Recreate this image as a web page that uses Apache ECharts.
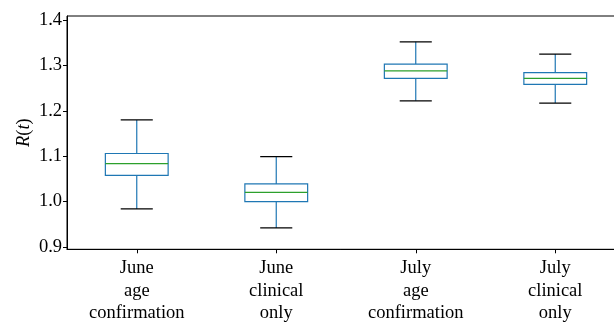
<!DOCTYPE html>
<html>
<head>
<meta charset="utf-8">
<script src="https://cdn.jsdelivr.net/npm/echarts@6/dist/echarts.min.js"></script>
<style>html,body{margin:0;padding:0;background:#fff}#c{width:614px;height:322px}</style>
</head>
<body>
<div id="c"></div>
<script>
const categories = ["June\nage\nconfirmation", "June\nclinical\nonly", "July\nage\nconfirmation", "July\nclinical\nonly"];
const whiskerLow = [0.984, 0.942, 1.222, 1.217];
const q1 = [1.058, 1.000, 1.2715, 1.258];
const median = [1.0835, 1.0205, 1.288, 1.2715];
const q3 = [1.106, 1.039, 1.303, 1.284];
const whiskerHigh = [1.180, 1.099, 1.352, 1.325];
const yTicks = [0.9, 1.0, 1.1, 1.2, 1.3, 1.4];

const data = categories.map((c, i) => [i, whiskerLow[i], q1[i], median[i], q3[i], whiskerHigh[i]]);
const FONT = "Liberation Serif";
const BLUE = "#1f77b4", GREEN = "#2ca02c";
const FS = 18.5;

const chart = echarts.init(document.getElementById('c'));
chart.setOption({
  animation: false,
  backgroundColor: '#fff',
  grid: { left: 67, top: 16, width: 558, height: 233.3, containLabel: false, outerBoundsMode: 'none', show: true, borderColor: '#000', borderWidth: 1, backgroundColor: 'transparent' },
  xAxis: {
    type: 'category', data: categories, boundaryGap: true,
    axisLine: { show: true, lineStyle: { color: '#000', width: 1 } },
    axisTick: { show: true, alignWithLabel: true, length: 4, lineStyle: { color: '#000', width: 1 } },
    axisLabel: { fontFamily: FONT, fontSize: FS, color: '#000', lineHeight: 22.5, margin: 8, interval: 0 },
    splitLine: { show: false }
  },
  yAxis: {
    type: 'value', min: 0.895, max: 1.4088,
    name: '{i|R}({i|t})', nameLocation: 'middle', nameGap: 33, nameRotate: 90, nameMoveOverlap: false,
    nameTextStyle: { fontFamily: FONT, fontSize: FS, color: '#000', rich: { i: { fontFamily: FONT, fontSize: FS, fontStyle: 'italic', color: '#000' } } },
    axisLine: { show: true, lineStyle: { color: '#000', width: 1 } },
    axisTick: { show: true, length: 4, customValues: yTicks, lineStyle: { color: '#000', width: 1 } },
    axisLabel: { customValues: yTicks, fontFamily: FONT, fontSize: FS, color: '#000', margin: 5, formatter: v => v.toFixed(1) },
    splitLine: { show: false }
  },
  series: [{
    type: 'custom',
    data: data,
    encode: { x: 0, y: [1, 2, 3, 4, 5] },
    renderItem: function (params, api) {
      const idx = api.value(0);
      const band = api.size([1, 0])[0];
      const bw = band * 0.45, cw = band * 0.23;
      const pLow = api.coord([idx, api.value(1)]);
      const pQ1 = api.coord([idx, api.value(2)]);
      const pMed = api.coord([idx, api.value(3)]);
      const pQ3 = api.coord([idx, api.value(4)]);
      const pHigh = api.coord([idx, api.value(5)]);
      const x = pMed[0];
      const blue = { stroke: BLUE, lineWidth: 1.2, fill: null };
      return {
        type: 'group',
        children: [
          { type: 'line', shape: { x1: x, y1: pQ3[1], x2: x, y2: pHigh[1] }, style: blue },
          { type: 'line', shape: { x1: x, y1: pQ1[1], x2: x, y2: pLow[1] }, style: blue },
          { type: 'line', shape: { x1: x - cw / 2, y1: pHigh[1], x2: x + cw / 2, y2: pHigh[1] }, style: { stroke: '#000', lineWidth: 1.2 } },
          { type: 'line', shape: { x1: x - cw / 2, y1: pLow[1], x2: x + cw / 2, y2: pLow[1] }, style: { stroke: '#000', lineWidth: 1.2 } },
          { type: 'rect', shape: { x: x - bw / 2, y: pQ3[1], width: bw, height: pQ1[1] - pQ3[1] }, style: { stroke: BLUE, lineWidth: 1.2, fill: '#fff' } },
          { type: 'line', shape: { x1: x - bw / 2, y1: pMed[1], x2: x + bw / 2, y2: pMed[1] }, style: { stroke: GREEN, lineWidth: 1.2 } }
        ]
      };
    }
  }]
});
</script>
</body>
</html>
